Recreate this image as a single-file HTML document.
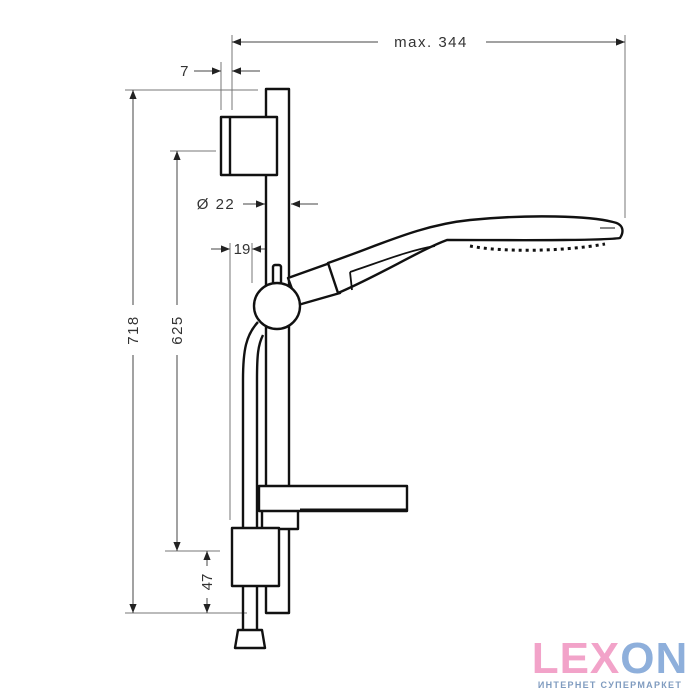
<!DOCTYPE html>
<html><head><meta charset="utf-8"><style>
html,body{margin:0;padding:0;background:#fff;width:700px;height:700px;overflow:hidden}
svg{display:block}
</style></head><body>
<svg width="700" height="700" viewBox="0 0 700 700" xmlns="http://www.w3.org/2000/svg">
<defs>
<marker id="a" viewBox="0 0 10 10" refX="10" refY="5" markerWidth="9" markerHeight="9" orient="auto-start-reverse" markerUnits="userSpaceOnUse"><path d="M0,1 L10,5 L0,9 z" fill="#222"/></marker>
</defs>
<g stroke="#777" stroke-width="1" fill="none">
<!-- max 344 -->
<line x1="232" y1="35" x2="232" y2="110"/>
<line x1="625" y1="35" x2="625" y2="218"/>
<line x1="232" y1="42" x2="378" y2="42" stroke="#444" marker-start="url(#a)"/>
<line x1="486" y1="42" x2="625" y2="42" stroke="#444" marker-end="url(#a)"/>
<!-- 7 -->
<line x1="221" y1="62" x2="221" y2="110"/>
<line x1="194" y1="71" x2="221" y2="71" stroke="#444" marker-end="url(#a)"/>
<line x1="260" y1="71" x2="232" y2="71" stroke="#444" marker-end="url(#a)"/>
<!-- 718 -->
<line x1="125" y1="90" x2="258" y2="90"/>
<line x1="125" y1="613" x2="247" y2="613"/>
<line x1="133" y1="90" x2="133" y2="305" stroke="#444" marker-start="url(#a)"/>
<line x1="133" y1="355" x2="133" y2="613" stroke="#444" marker-end="url(#a)"/>
<!-- 625 -->
<line x1="170" y1="151" x2="216" y2="151"/>
<line x1="165" y1="551" x2="220" y2="551"/>
<line x1="177" y1="151" x2="177" y2="305" stroke="#444" marker-start="url(#a)"/>
<line x1="177" y1="355" x2="177" y2="551" stroke="#444" marker-end="url(#a)"/>
<!-- 47 -->
<line x1="207" y1="566" x2="207" y2="551" stroke="#444" marker-end="url(#a)"/>
<line x1="207" y1="598" x2="207" y2="613" stroke="#444" marker-end="url(#a)"/>
<!-- Ø22 -->
<line x1="243" y1="204" x2="265" y2="204" stroke="#444" marker-end="url(#a)"/>
<line x1="318" y1="204" x2="291" y2="204" stroke="#444" marker-end="url(#a)"/>
<!-- 19 -->
<line x1="211" y1="249" x2="230" y2="249" stroke="#444" marker-end="url(#a)"/>
<line x1="273" y1="249" x2="252" y2="249" stroke="#444" marker-end="url(#a)"/>
<line x1="230" y1="243" x2="230" y2="520"/>
<line x1="252" y1="243" x2="252" y2="283"/>
</g>
<g font-family="Liberation Sans, sans-serif" font-size="15" fill="#333" letter-spacing="1.5">
<text x="431" y="47" text-anchor="middle">max. 344</text>
<text x="185" y="76" text-anchor="middle">7</text>
<text x="216" y="209" text-anchor="middle">Ø 22</text>
<text x="242" y="254" text-anchor="middle" letter-spacing="0">19</text>
<text transform="translate(138,330) rotate(-90)" text-anchor="middle">718</text>
<text transform="translate(182,330) rotate(-90)" text-anchor="middle">625</text>
<text transform="translate(212,582) rotate(-90)" text-anchor="middle" letter-spacing="0">47</text>
</g>
<g stroke="#111" stroke-width="2.4" fill="#fff" stroke-linejoin="round">
<!-- rail -->
<path d="M266,89 H289 V613 H266 Z"/>
<!-- hose -->
<path d="M258,322 C246,335 243,350 243,380 V630" fill="none"/>
<path d="M263,335 C258,345 257,355 257,380 V630" fill="none"/>
<!-- top bracket -->
<rect x="221" y="117" width="56" height="58"/>
<line x1="230" y1="117" x2="230" y2="175"/>
<!-- pipe to handle -->
<path d="M288,278 L330,263 L340,293 L298,305 Z"/>
<!-- shower -->
<path d="M328,263 C380,245 420,225 470,220 C530,214 590,216 613,222 C624,224 624,232 620,238 C600,241 500,240 447,240 C420,250 380,275 338,293 Z"/>
<path d="M350,272 C380,262 410,250 435,246 M350,272 L352,290" fill="none" stroke-width="1.8"/>
<path d="M470,246 C500,252 560,252 605,244" fill="none" stroke-width="3" stroke-dasharray="3 4"/>
<line x1="600" y1="228" x2="615" y2="228" stroke-width="1"/>
<!-- knob -->
<rect x="273" y="265" width="8" height="24" rx="2"/>
<circle cx="277" cy="306" r="23"/>
<!-- soap dish -->
<rect x="262" y="510" width="36" height="19"/>
<rect x="259" y="486" width="148" height="25"/>
<line x1="300" y1="510" x2="407" y2="510" stroke-width="3"/>
<!-- lower bracket -->
<rect x="232" y="528" width="47" height="58"/>
<!-- hose nut -->
<path d="M238,630 H262 L265,648 H235 Z"/>
</g>
<text x="610" y="673" text-anchor="middle" font-family="Liberation Sans, sans-serif" font-weight="bold" font-size="44" letter-spacing="1"><tspan fill="#f2a3c9">LEX</tspan><tspan fill="#8eafdb">ON</tspan></text>
<text x="610" y="688" text-anchor="middle" font-family="Liberation Sans, sans-serif" font-weight="bold" font-size="9" fill="#7f9bbf" letter-spacing="1.3">ИНТЕРНЕТ СУПЕРМАРКЕТ</text>
</svg>
</body></html>
